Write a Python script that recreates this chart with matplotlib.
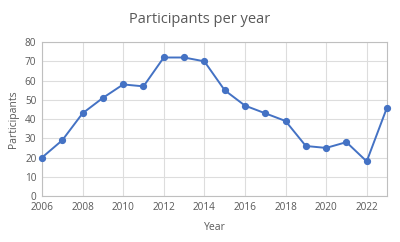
import matplotlib
matplotlib.use("Agg")
import matplotlib.pyplot as plt

years = [2006, 2007, 2008, 2009, 2010, 2011, 2012, 2013, 2014,
         2015, 2016, 2017, 2018, 2019, 2020, 2021, 2022, 2023]
participants = [20, 29, 43, 51, 58, 57, 72, 72, 70,
                55, 47, 43, 39, 26, 25, 28, 18, 46]
x_ticks = list(range(2006, 2024, 2))
y_ticks = list(range(0, 81, 10))

plt.rcParams['font.family'] = ['Open Sans', 'DejaVu Sans']
text_color = '#595959'

fig = plt.figure(figsize=(4, 2.42), dpi=100)
ax = fig.add_axes([0.105, 0.19, 0.8625, 0.636])

ax.plot(years, participants, color='#4472C4', linewidth=1.4,
        marker='o', markersize=4.2, clip_on=False, zorder=3)

ax.set_xlim(2006, 2023)
ax.set_ylim(0, 80)
ax.set_xticks(x_ticks)
ax.set_yticks(y_ticks)
ax.grid(True, color='#DDDDDD', linewidth=0.8)
ax.set_axisbelow(True)
for s in ax.spines.values():
    s.set_color('#BFBFBF')
    s.set_linewidth(0.8)
ax.tick_params(length=0, labelsize=7.2, colors=text_color, pad=4)

ax.set_xlabel('Year', fontsize=7.5, color=text_color, labelpad=7)
ax.set_ylabel('Participants', fontsize=7.5, color=text_color, labelpad=4)
fig.suptitle('Participants per year', fontsize=10.5, color=text_color, y=0.95)

fig.savefig('out.png', dpi=100)
